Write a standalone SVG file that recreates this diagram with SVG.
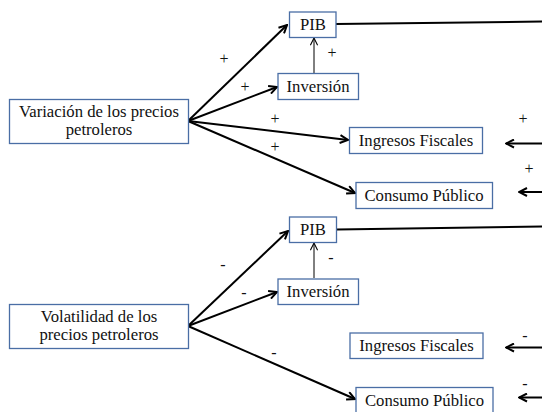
<svg xmlns="http://www.w3.org/2000/svg" width="542" height="412" viewBox="0 0 542 412">
<style>
.box{fill:#fff;stroke:#4a6ea5;stroke-width:1.3}
.t{font-family:'Liberation Serif',serif;font-size:16.7px;fill:#111;text-anchor:middle}
.s{font-family:'Liberation Serif',serif;font-size:16px;fill:#111;text-anchor:middle}
.c{stroke:#000;stroke-width:2;fill:none}
.ct{stroke:#000;stroke-width:1;fill:none}
</style>
<defs>
<marker id="ah" viewBox="0 0 10 10" refX="9" refY="5" markerWidth="10" markerHeight="10" markerUnits="userSpaceOnUse" orient="auto">
<path d="M1,1 L9,5 L1,9" fill="none" stroke="#000" stroke-width="2"/>
</marker>
<marker id="aht" viewBox="0 0 10 10" refX="9" refY="5" markerWidth="9" markerHeight="9" markerUnits="userSpaceOnUse" orient="auto">
<path d="M1,1 L9,5 L1,9" fill="none" stroke="#000" stroke-width="1.2"/>
</marker>
</defs>
<g id="connectors">
<line class="c" x1="188" y1="121" x2="287" y2="25" marker-end="url(#ah)"/>
<line class="c" x1="188" y1="121" x2="277" y2="87" marker-end="url(#ah)"/>
<line class="c" x1="188" y1="121" x2="348" y2="140" marker-end="url(#ah)"/>
<line class="c" x1="188" y1="121" x2="355" y2="193" marker-end="url(#ah)"/>
<line class="ct" x1="314" y1="73" x2="314" y2="38" marker-end="url(#aht)"/>
<line class="c" x1="336" y1="24" x2="542" y2="21.5"/>
<line class="c" x1="542" y1="143.5" x2="506" y2="143.5" marker-end="url(#ah)"/>
<line class="c" x1="542" y1="192" x2="519" y2="192" marker-end="url(#ah)"/>
<line class="c" x1="188" y1="326" x2="288" y2="231" marker-end="url(#ah)"/>
<line class="c" x1="188" y1="326" x2="277" y2="292" marker-end="url(#ah)"/>
<line class="c" x1="188" y1="326" x2="355" y2="399" marker-end="url(#ah)"/>
<line class="ct" x1="314" y1="278" x2="314" y2="243" marker-end="url(#aht)"/>
<line class="c" x1="337" y1="229.5" x2="542" y2="226.5"/>
<line class="c" x1="542" y1="347.5" x2="506" y2="347.5" marker-end="url(#ah)"/>
<line class="c" x1="542" y1="397.5" x2="519" y2="397.5" marker-end="url(#ah)"/>
<g id="labels">
<text class="s" x="224" y="64">+</text>
<text class="s" x="245" y="92">+</text>
<text class="s" x="275" y="124">+</text>
<text class="s" x="275" y="152">+</text>
<text class="s" x="332" y="58">+</text>
<text class="s" x="523" y="124">+</text>
<text class="s" x="529" y="174">+</text>
<text class="s" x="223" y="270">-</text>
<text class="s" x="244" y="298">-</text>
<text class="s" x="274" y="358">-</text>
<text class="s" x="331" y="263">-</text>
<text class="s" x="525" y="341">-</text>
<text class="s" x="525" y="389">-</text>
</g>
</g>
<g id="var">
<rect class="box" x="9.5" y="99.5" width="179" height="44"/>
<text class="t" x="99" y="117">Variación de los precios</text>
<text class="t" x="99" y="135">petroleros</text>
</g>
<g id="pib1">
<rect class="box" x="289.5" y="12" width="46.5" height="25.5"/>
<text class="t" x="313" y="30">PIB</text>
</g>
<g id="inv1">
<rect class="box" x="278" y="73.5" width="80.5" height="26"/>
<text class="t" x="318" y="92">Inversión</text>
</g>
<g id="ing1">
<rect class="box" x="349.5" y="127.5" width="133" height="26"/>
<text class="t" x="416" y="146">Ingresos Fiscales</text>
</g>
<g id="con1">
<rect class="box" x="356" y="182.5" width="136.5" height="26"/>
<text class="t" x="424" y="201">Consumo Público</text>
</g>
<g id="vol">
<rect class="box" x="9.5" y="304.5" width="179" height="44"/>
<text class="t" x="99" y="322">Volatilidad de los</text>
<text class="t" x="99" y="340">precios petroleros</text>
</g>
<g id="pib2">
<rect class="box" x="289.5" y="217" width="47" height="25.5"/>
<text class="t" x="313" y="235">PIB</text>
</g>
<g id="inv2">
<rect class="box" x="278" y="279" width="80.5" height="25.5"/>
<text class="t" x="318" y="297">Inversión</text>
</g>
<g id="ing2">
<rect class="box" x="350" y="333" width="133" height="25.5"/>
<text class="t" x="416.5" y="351">Ingresos Fiscales</text>
</g>
<g id="con2">
<rect class="box" x="356" y="387.5" width="137" height="26"/>
<text class="t" x="424.5" y="406">Consumo Público</text>
</g>
</svg>
